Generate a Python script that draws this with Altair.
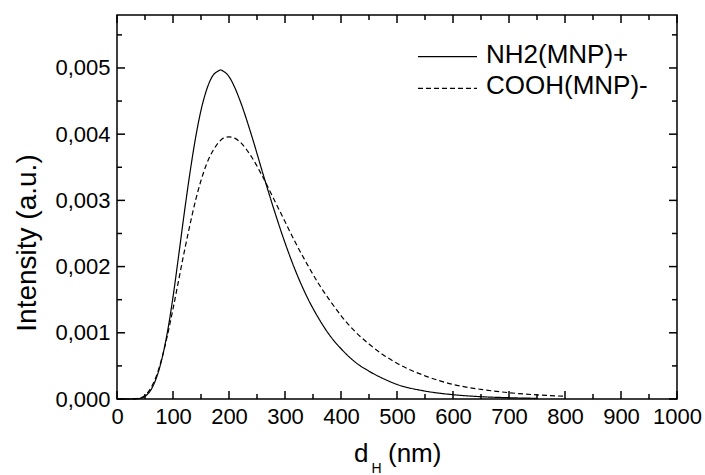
import altair as alt
import pandas as pd

# ---- data ----
x_nh2 = [0, 10, 20, 30, 40, 50, 60, 70, 80, 90, 100, 110, 120, 130, 140, 150, 160, 170,
         180, 185, 190, 200, 210, 220, 240, 260, 280, 300, 320, 340, 360, 380, 400, 425, 450,
         475, 500, 550, 600, 650, 700, 750]
y_nh2 = [0.0, 0.0, 0.0, 0.000001, 0.000008, 0.00004, 0.00013, 0.00031, 0.00060, 0.00101,
         0.00154, 0.00216, 0.00280, 0.00340, 0.00393, 0.00436, 0.00467, 0.00487, 0.00495,
         0.00497, 0.00495, 0.00487, 0.00471, 0.00450, 0.00399, 0.00342, 0.00287, 0.00236, 0.00191,
         0.00153, 0.00122, 0.00096, 0.00076, 0.00056, 0.00042, 0.00031, 0.00022, 0.00012,
         0.000065, 0.000035, 0.000019, 0.000010]

x_cooh = [0, 10, 20, 30, 40, 50, 60, 70, 80, 90, 100, 110, 120, 130, 140, 150, 160, 170,
          180, 190, 200, 210, 220, 240, 260, 280, 300, 320, 340, 360, 380, 400, 425, 450,
          475, 500, 550, 600, 650, 700, 750, 800]
y_cooh = [0.0, 0.0, 0.0, 0.000002, 0.000013, 0.000055, 0.00016, 0.00034, 0.00061, 0.00096,
          0.00136, 0.00179, 0.00222, 0.00262, 0.00299, 0.00330, 0.00355, 0.00373, 0.00386,
          0.00394, 0.00396, 0.00394, 0.00388, 0.00366, 0.00336, 0.00302, 0.00268, 0.00234,
          0.00203, 0.00174, 0.00149, 0.00126, 0.00102, 0.00083, 0.00067, 0.00054, 0.00035,
          0.00022, 0.000145, 0.000095, 0.000062, 0.000041]

series_names = ["NH2(MNP)+", "COOH(MNP)-"]

x_major = [0, 100, 200, 300, 400, 500, 600, 700, 800, 900, 1000]
x_minor = [50, 150, 250, 350, 450, 550, 650, 750, 850, 950]
y_major = [0.0, 0.001, 0.002, 0.003, 0.004, 0.005]
y_minor = [0.0005, 0.0015, 0.0025, 0.0035, 0.0045, 0.0055]

W, H = 560, 384
FONT = "Liberation Sans"

rows = []
for x, y in zip(x_nh2, y_nh2):
    rows.append({"d": x, "v": y, "series": series_names[0]})
for x, y in zip(x_cooh, y_cooh):
    rows.append({"d": x, "v": y, "series": series_names[1]})
curves = pd.DataFrame(rows)

xs = alt.Scale(domain=[0, 1000], nice=False, zero=False)
ys = alt.Scale(domain=[0, 0.0058], nice=False, zero=False)

ax_x = alt.Axis(
    values=x_major, format="d", title=None, grid=False, domain=False,
    ticks=False, tickSize=0, labelPadding=7, labelFont=FONT, labelFontSize=22,
    labelColor="black", labelFlush=False)
ax_y = alt.Axis(
    values=y_major, labelExpr="replace(format(datum.value, '.3f'), '.', ',')",
    title=None, grid=False, domain=False, ticks=False, tickSize=0,
    labelPadding=7, labelFont=FONT, labelFontSize=22, labelColor="black",
    labelFlush=False)

lines = alt.Chart(curves).mark_line(
    color="black", strokeWidth=1.2, interpolate="monotone"
).encode(
    x=alt.X("d:Q", scale=xs, axis=ax_x),
    y=alt.Y("v:Q", scale=ys, axis=ax_y),
    strokeDash=alt.StrokeDash("series:N", scale=alt.Scale(
        domain=series_names, range=[[1, 0], [5, 3]]), legend=None),
)

def xticks(vals, length):
    df = pd.DataFrame({"d": vals})
    bottom = alt.Chart(df).mark_rule(color="black", strokeWidth=1.5).encode(
        x=alt.X("d:Q", scale=xs, axis=ax_x), y=alt.value(H), y2=alt.value(H - length))
    top = alt.Chart(df).mark_rule(color="black", strokeWidth=1.5).encode(
        x=alt.X("d:Q", scale=xs, axis=ax_x), y=alt.value(0), y2=alt.value(length))
    return [bottom, top]

def yticks(vals, length):
    df = pd.DataFrame({"v": vals})
    left = alt.Chart(df).mark_rule(color="black", strokeWidth=1.5).encode(
        y=alt.Y("v:Q", scale=ys, axis=ax_y), x=alt.value(0), x2=alt.value(length))
    right = alt.Chart(df).mark_rule(color="black", strokeWidth=1.5).encode(
        y=alt.Y("v:Q", scale=ys, axis=ax_y), x=alt.value(W), x2=alt.value(W - length))
    return [left, right]

tick_layers = xticks(x_major, 8) + xticks(x_minor, 5) + yticks(y_major, 8) + yticks(y_minor, 5)

one = pd.DataFrame({"k": [0]})

leg_solid = alt.Chart(one).mark_rule(color="black", strokeWidth=1.2).encode(
    x=alt.value(301), x2=alt.value(360), y=alt.value(41.7))
leg_dash = alt.Chart(one).mark_rule(color="black", strokeWidth=1.2, strokeDash=[5, 3]).encode(
    x=alt.value(301), x2=alt.value(360), y=alt.value(73.3))
leg_t1 = alt.Chart(one).mark_text(text=series_names[0], font=FONT, fontSize=26,
                                  align="left", baseline="alphabetic", color="black").encode(
    x=alt.value(369), y=alt.value(48.3))
leg_t2 = alt.Chart(one).mark_text(text=series_names[1], font=FONT, fontSize=26,
                                  align="left", baseline="alphabetic", color="black").encode(
    x=alt.value(369), y=alt.value(79.3))

xt_d = alt.Chart(one).mark_text(text="d", font=FONT, fontSize=26, align="left",
                                baseline="alphabetic", color="black").encode(
    x=alt.value(237), y=alt.value(447))
xt_h = alt.Chart(one).mark_text(text="H", font=FONT, fontSize=14, align="left",
                                baseline="alphabetic", color="black").encode(
    x=alt.value(254.5), y=alt.value(458))
xt_nm = alt.Chart(one).mark_text(text="(nm)", font=FONT, fontSize=26, align="left",
                                 baseline="alphabetic", color="black").encode(
    x=alt.value(271), y=alt.value(447))
yt = alt.Chart(one).mark_text(text="Intensity (a.u.)", font=FONT, fontSize=28, align="center",
                              baseline="alphabetic", angle=270, color="black").encode(
    x=alt.value(-81), y=alt.value(228))

chart = alt.layer(
    lines, *tick_layers, leg_solid, leg_dash, leg_t1, leg_t2, xt_d, xt_h, xt_nm, yt
).properties(
    width=W, height=H,
    background="white",
    autosize=alt.AutoSizeParams(type="none"),
    padding={"left": 117, "top": 15, "right": 28, "bottom": 76},
).configure_view(
    stroke="black", strokeWidth=1.5
)

chart.save("out.html", embed_options={"renderer": "svg", "actions": False})
